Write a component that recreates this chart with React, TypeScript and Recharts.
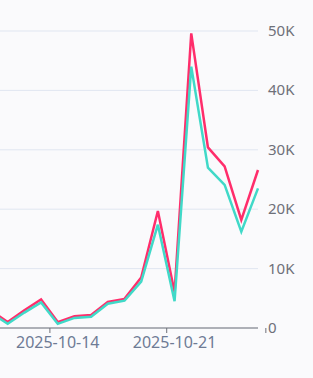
import React from 'react'
import { LineChart, Line, XAxis, YAxis, CartesianGrid } from 'recharts'

const dates = [
  '2025-10-10', '2025-10-11', '2025-10-12', '2025-10-13', '2025-10-14',
  '2025-10-15', '2025-10-16', '2025-10-17', '2025-10-18', '2025-10-19',
  '2025-10-20', '2025-10-21', '2025-10-22', '2025-10-23', '2025-10-24',
  '2025-10-25', '2025-10-26',
]
const totalValues = [
  2900, 1000, 3000, 4800, 1000, 2000, 2200, 4400, 4900, 8500,
  19700, 6000, 49600, 30400, 27200, 18200, 26600,
]
const partValues = [
  2600, 700, 2600, 4300, 700, 1700, 1900, 4100, 4600, 7800,
  17400, 4500, 44000, 27000, 24100, 16200, 23500,
]
const labeledDates = ['2025-10-14', '2025-10-21']
const yTicks = [0, 10000, 20000, 30000, 40000, 50000]

const data = dates.map((d, i) => ({ date: d, total: totalValues[i], part: partValues[i] }))

const CHART_W = 322
const Y_W = 55
const BAND = (CHART_W - Y_W) / dates.length

const XTick = (props: any) => {
  const { x, y, payload, index } = props
  const isLast = index === dates.length - 1
  const show = labeledDates.includes(payload.value)
  return (
    <g>
      {show && <line x1={x - BAND / 2} x2={x - BAND / 2} y1={y} y2={y + 5} stroke="#6e7079" />}
      {isLast && <line x1={x + BAND / 2} x2={x + BAND / 2} y1={y} y2={y + 5} stroke="#6e7079" />}
      {show && (
        <text x={x} y={y + 20} textAnchor="middle" fill="#6e7b95" fontSize={16} fontFamily="Noto Sans">
          {payload.value}
        </text>
      )}
    </g>
  )
}

const YTick = (props: any) => {
  const { x, y, payload } = props
  const v = payload.value
  return (
    <text x={x + 10} y={y + 5} textAnchor="start" fill="#6e7079" fontSize={15} fontFamily="Noto Sans">
      {v === 0 ? '0' : `${v / 1000}K`}
    </text>
  )
}

export default function App() {
  return (
    <div style={{ position: 'absolute', left: 0, top: 0, width: 313, height: 378, overflow: 'hidden', background: '#fafafc' }}>
      <div style={{ position: 'absolute', left: -9.4, top: 0 }}>
        <LineChart width={CHART_W} height={378} data={data} margin={{ top: 31, right: 0, left: 0, bottom: 20 }}>
          <CartesianGrid vertical={false} stroke="#e0e6f1" />
          <XAxis
            dataKey="date"
            interval={0}
            height={30}
            tickSize={0}
            tickMargin={0}
            tickLine={false}
            axisLine={{ stroke: '#6e7079' }}
            tick={<XTick />}
          />
          <YAxis
            orientation="right"
            width={Y_W}
            domain={[0, 50000]}
            ticks={yTicks}
            axisLine={false}
            tickLine={false}
            tickSize={0}
            tickMargin={0}
            tick={<YTick />}
          />
          <Line type="linear" dataKey="total" stroke="#ff2d6b" strokeWidth={2.5} dot={false} isAnimationActive={false} />
          <Line type="linear" dataKey="part" stroke="#40d9c8" strokeWidth={2.5} dot={false} isAnimationActive={false} />
        </LineChart>
      </div>
    </div>
  )
}
